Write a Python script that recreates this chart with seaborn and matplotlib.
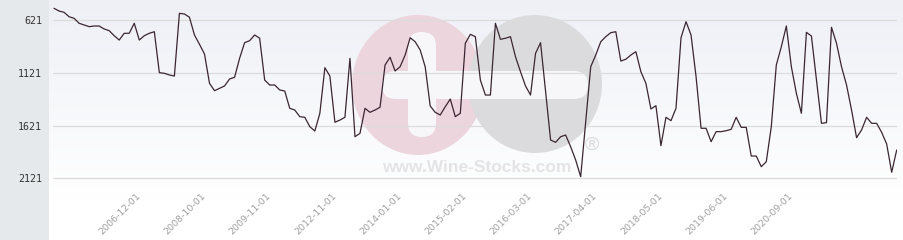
import numpy as np
import pandas as pd
import seaborn as sns
import matplotlib
matplotlib.use("Agg")
import matplotlib.pyplot as plt
from matplotlib.patches import Ellipse, FancyBboxPatch, Rectangle

# ---- data ----
values = [
    510, 536, 548, 590, 605, 652, 668, 684, 678, 678, 706, 722, 770, 811, 747, 747,
    652, 811, 770, 747, 732, 1120, 1126, 1142, 1152, 558, 564, 595, 763, 851, 943,
    1221, 1291, 1268, 1246, 1180, 1164, 984, 836, 817, 763, 794, 1190, 1237, 1237,
    1284, 1294, 1458, 1474, 1537, 1543, 1632, 1673, 1505, 1073, 1152, 1590, 1569,
    1543, 984, 1727, 1695, 1458, 1496, 1474, 1448, 1047, 974, 1104, 1064, 953, 789,
    827, 905, 1064, 1436, 1496, 1521, 1443, 1370, 1537, 1505, 842, 757, 779, 1190,
    1332, 1332, 652, 804, 794, 779, 969, 1111, 1246, 1332, 937, 836, 1294, 1758,
    1780, 1727, 1711, 1822, 1948, 2106, 1588, 1064, 953, 827, 779, 741, 732, 1010,
    993, 953, 921, 1111, 1221, 1464, 1433, 1812, 1543, 1575, 1458, 789, 637, 763,
    1158, 1647, 1647, 1774, 1679, 1679, 1670, 1657, 1543, 1638, 1638, 1910, 1910,
    2011, 1964, 1632, 1047, 874, 678, 1064, 1316, 1505, 738, 773, 1190, 1600, 1594,
    690, 842, 1064, 1237, 1474, 1736, 1663, 1543, 1600, 1600, 1685, 1796, 2064, 1853,
]
tick_labels = ["2006-12-01", "2008-10-01", "2009-11-01", "2012-11-01", "2014-01-01",
               "2015-02-01", "2016-03-01", "2017-04-01", "2018-05-01", "2019-06-01",
               "2020-09-01"]
first_labelled_point = 17
label_step = 13
y_ticks = [621, 1121, 1621, 2121]

df = pd.DataFrame({"idx": np.arange(len(values)), "value": values})

sns.set_theme(style="white")
W, H = 904, 240
fig = plt.figure(figsize=(W / 100, H / 100), dpi=100)
fig.patch.set_facecolor("white")

# ---- background axes in pixel coordinates ----
bg = fig.add_axes([0, 0, 1, 1])
bg.set_xlim(0, W)
bg.set_ylim(H, 0)
bg.axis("off")
top = np.array([0xee, 0xf0, 0xf6]) / 255
bot = np.array([1.0, 1.0, 1.0])
t = np.clip(np.linspace(0, 1, 240) / (200 / 240), 0, 1)[:, None]
grad = (top[None, :] * (1 - t) + bot[None, :] * t)[:, None, :]
bg.imshow(grad, extent=(49, W, H, 0), aspect="auto", zorder=0, interpolation="bilinear")
bg.add_patch(Rectangle((0, 0), 49, H, facecolor="#e6e9ec", edgecolor="none", zorder=1))

# watermark
bg.add_patch(Ellipse((418, 85), 132, 140, facecolor="#edd5dd", edgecolor="none", zorder=2))
bg.add_patch(Ellipse((535, 84), 134, 138, facecolor="#dbdbde", edgecolor="none", zorder=3))
bg.add_patch(FancyBboxPatch((382, 71), 206, 28, boxstyle="round,pad=0,rounding_size=14",
                            facecolor="#f7f7f9", edgecolor="none", zorder=4))
bg.add_patch(FancyBboxPatch((408, 32), 28, 105, boxstyle="round,pad=0,rounding_size=14",
                            facecolor="#f7f7f9", edgecolor="none", zorder=4))
bg.text(477, 167, "www.Wine-Stocks.com", ha="center", va="center", fontsize=12.5,
        fontweight="bold", color="#e4e4e7", zorder=4, family="Liberation Sans")
bg.text(592, 145, "®", ha="center", va="center", fontsize=14, color="#dadadd",
        zorder=4, family="Liberation Sans")

# ---- main axes ----
x0, x1 = 53, 897
y0, y1 = 0, 185
ax = fig.add_axes([x0 / W, 1 - y1 / H, (x1 - x0) / W, (y1 - y0) / H])
ax.patch.set_alpha(0)
sns.lineplot(data=df, x="idx", y="value", ax=ax, color="#3a2632", linewidth=0.9, zorder=5)

ax.set_xlim(-0.2, len(values) - 1 + 0.06)
ax.set_ylim(2184.5, 431.5)
ax.set_yticks(y_ticks)
ax.set_yticklabels([str(v) for v in y_ticks], family="DejaVu Sans Mono", fontsize=7.2,
                   color="#333333")
ax.yaxis.grid(True, color="#dcdcdc", linewidth=0.9)
ax.xaxis.grid(False)
tick_pos = [first_labelled_point + label_step * k for k in range(len(tick_labels))]
ax.set_xticks(tick_pos)
ax.set_xticklabels(tick_labels, rotation=45, ha="right", va="center",
                   rotation_mode="anchor", fontsize=6.8, color="#a0a0a0",
                   family="DejaVu Sans")
ax.tick_params(axis="both", length=0)
ax.tick_params(axis="y", pad=8)
ax.tick_params(axis="x", pad=7)
for s in ax.spines.values():
    s.set_visible(False)
ax.set_xlabel("")
ax.set_ylabel("")

fig.savefig("out.png", dpi=100)
